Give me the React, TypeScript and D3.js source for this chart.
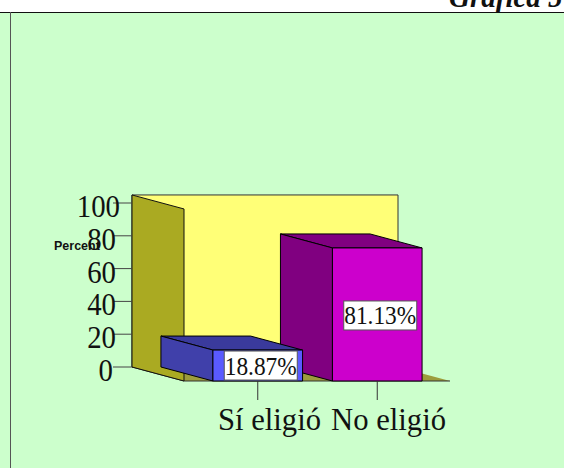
import React from "react";
import * as d3 from "d3";

const categories = ["Sí eligió", "No eligió"];
const percents = [18.87, 81.13];
const barLabels = ["18.87%", "81.13%"];
const yTicks = [0, 20, 40, 60, 80, 100];
const frontColors = ["#5a5aff", "#cc00cc"];
const sideColors = ["#4040aa", "#800080"];
const topColors = ["#3a3a9c", "#800080"];

const W = 564, H = 468;
const DX = 52, DY = 14;
const serif = "'Liberation Serif', serif";
const y = d3.scaleLinear().domain([0, 100]).range([381, 217]);
const x = d3.scaleBand<string>().domain(categories).range([198, 437]).paddingInner(0.25).paddingOuter(0.125);
const Y_MAX = 104.9;
const line = d3.line();
const poly = (pts: [number, number][]) => line(pts) + "Z";
const LEFT = 184, RIGHT = 450;

const tickLabelEnd = (v: number) => (v === 100 ? 120 : v === 0 ? 113 : 116);

export default function App() {
  const top = y(Y_MAX), base = y(0);
  const order = [1, 0];
  return (
    <svg width={W} height={H} style={{ position: "absolute", left: 0, top: 0, display: "block" }}>
      <rect x={0} y={12} width={W} height={H - 12} fill="#ccffcc" />
      <line x1={0} x2={W} y1={12.5} y2={12.5} stroke="#111" strokeWidth={1} />
      <line x1={10.5} x2={10.5} y1={12} y2={H} stroke="#555" strokeWidth={1} />
      <text x={449} y={7} fontFamily={serif} fontStyle="italic" fontWeight="bold" fontSize={29} fill="#111">Gráfica 5</text>

      <path d={poly([[LEFT - DX, top - DY], [RIGHT - DX, top - DY], [RIGHT - DX, base - DY], [LEFT - DX, base - DY]])} fill="#ffff77" stroke="#333" />
      <path d={poly([[LEFT - DX, base - DY], [RIGHT - DX, base - DY], [RIGHT, base], [LEFT, base]])} fill="#9c9c3c" stroke="none" />
      <line x1={LEFT} x2={RIGHT} y1={base} y2={base} stroke="#333" />
      <line x1={LEFT - DX} x2={LEFT} y1={base - DY} y2={base} stroke="#333" />
      <path d={poly([[LEFT - DX, top - DY], [LEFT, top], [LEFT, base], [LEFT - DX, base - DY]])} fill="#aaaa22" stroke="#111" />

      {yTicks.map((t) => (
        <g key={t}>
          <line x1={113} x2={LEFT - DX} y1={y(t) - DY} y2={y(t) - DY} stroke="#444" />
          <text x={tickLabelEnd(t)} y={y(t)} textAnchor="end" fontFamily={serif} fontSize={32} fill="#111"
            textLength={String(t).length * 14.4} lengthAdjust="spacingAndGlyphs">{t}</text>
        </g>
      ))}
      <text x={54} y={250} fontFamily="'Liberation Sans', sans-serif" fontWeight="bold" fontSize={12.5} fill="#111">Percent</text>

      {order.map((i) => {
        const c = categories[i];
        const x0 = x(c)!, x1 = x0 + x.bandwidth();
        const yt = y(percents[i]);
        return (
          <g key={c} stroke="#000" strokeLinejoin="round">
            <path d={poly([[x0 - DX, yt - DY], [x1 - DX, yt - DY], [x1, yt], [x0, yt]])} fill={topColors[i]} />
            <path d={poly([[x0 - DX, yt - DY], [x0, yt], [x0, base], [x0 - DX, base - DY]])} fill={sideColors[i]} />
            <rect x={x0} y={yt} width={x.bandwidth()} height={base - yt} fill={frontColors[i]} />
          </g>
        );
      })}

      {categories.map((c, i) => {
        const cx = x(c)! + x.bandwidth() / 2 + 3;
        const cy = i === 0 ? y(percents[i] / 2) : y(percents[i] / 2) + 1;
        return (
          <g key={c}>
            <rect x={cx - 36.5} y={cy - 14.5} width={73} height={29} fill="#fff" stroke="#555" />
            <text x={cx} y={cy + 9} textAnchor="middle" fontFamily={serif} fontSize={26} fill="#111"
              textLength={72} lengthAdjust="spacingAndGlyphs">{barLabels[i]}</text>
          </g>
        );
      })}

      {categories.map((c, i) => {
        const cx = x(c)! + x.bandwidth() / 2;
        return (
          <g key={c}>
            <line x1={cx} x2={cx} y1={base} y2={400} stroke="#333" />
            <text x={i === 0 ? 218 : 331} y={430} fontFamily={serif} fontSize={32} fill="#111"
              textLength={i === 0 ? 103 : 115} lengthAdjust="spacingAndGlyphs">{c}</text>
          </g>
        );
      })}
    </svg>
  );
}
